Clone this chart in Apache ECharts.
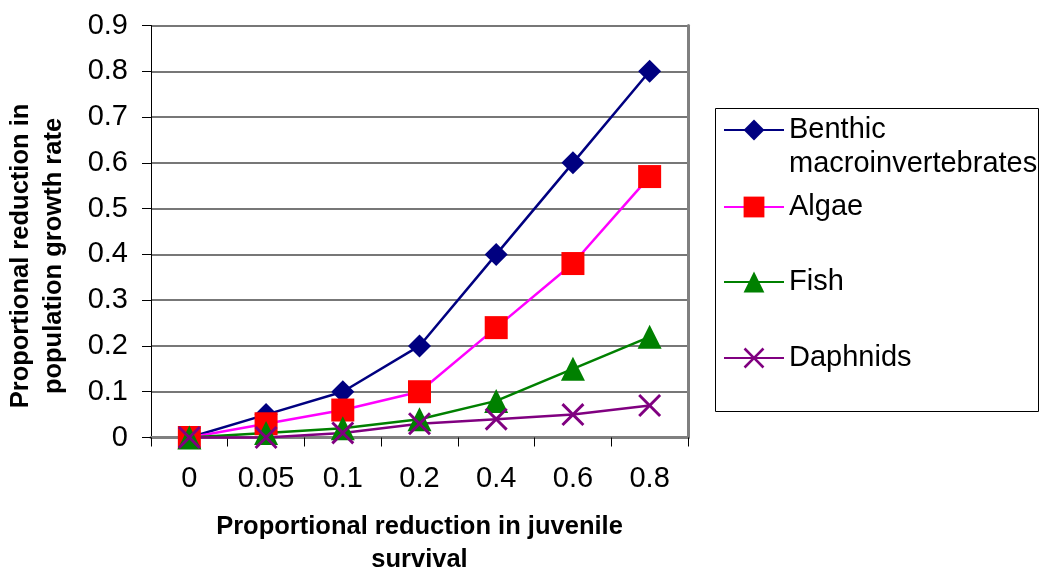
<!DOCTYPE html>
<html>
<head>
<meta charset="utf-8">
<script src="https://cdn.jsdelivr.net/npm/echarts@6/dist/echarts.min.js"></script>
<style>
  html, body { margin: 0; padding: 0; background: #fff; }
  #chart { width: 1042px; height: 571px; }
</style>
</head>
<body>
<div id="chart"></div>
<script>
// Proportional reduction in juvenile survival (category axis)
const survivalReduction = ['0', '0.05', '0.1', '0.2', '0.4', '0.6', '0.8'];

// Proportional reduction in population growth rate, per taxon
const benthic  = [0, 0.05, 0.10, 0.20, 0.40, 0.60, 0.80];
const algae    = [0, 0.03, 0.06, 0.10, 0.24, 0.38, 0.57];
const fish     = [0, 0.01, 0.02, 0.04, 0.08, 0.15, 0.22];
const daphnids = [0, 0.00, 0.01, 0.03, 0.04, 0.05, 0.07];

const seriesNames = ['Benthic macroinvertebrates', 'Algae', 'Fish', 'Daphnids'];

const FONT = '"Liberation Sans", Arial, sans-serif';
// filled "x" marker outline
const CROSS = 'path://M0,9 L9,0 L50,41 L91,0 L100,9 L59,50 L100,91 L91,100 L50,59 L9,100 L0,91 L41,50 Z';

const chart = echarts.init(document.getElementById('chart'), null, { renderer: 'canvas' });

function legendFor(name, top, extra) {
  return Object.assign({
    data: [name],
    orient: 'vertical',
    left: 723,
    top: top,
    padding: 0,
    itemWidth: 60,
    itemHeight: 26,
    selectedMode: false,
    textStyle: { fontFamily: FONT, fontSize: 29, color: '#000', lineHeight: 34 }
  }, extra || {});
}

const option = {
  animation: false,
  backgroundColor: '#ffffff',
  grid: { left: 151, top: 25.5, right: 354, bottom: 133.5, containLabel: false, outerBoundsMode: 'none' },
  xAxis: [{
    type: 'category',
    data: survivalReduction,
    boundaryGap: true,
    axisLine: { lineStyle: { color: '#000', width: 1 } },
    axisTick: { show: true, length: 9, inside: false, lineStyle: { color: '#000' } },
    axisLabel: { fontFamily: FONT, fontSize: 29, color: '#000', margin: 27 },
    splitLine: { show: false },
    name: 'Proportional reduction in juvenile\nsurvival',
    nameLocation: 'middle',
    nameGap: 73,
    nameTextStyle: { fontFamily: FONT, fontSize: 25.5, fontWeight: 'bold', color: '#000', lineHeight: 33 }
  }, {
    type: 'category',
    position: 'top',
    data: survivalReduction,
    axisLine: { lineStyle: { color: '#808080', width: 3 } },
    axisTick: { show: false },
    axisLabel: { show: false },
    splitLine: { show: false }
  }],
  yAxis: [{
    type: 'value',
    min: 0,
    max: 0.9,
    interval: 0.1,
    axisLine: { show: true, lineStyle: { color: '#000', width: 1 } },
    axisTick: { show: true, length: 9, inside: false, lineStyle: { color: '#000' } },
    axisLabel: { fontFamily: FONT, fontSize: 29, color: '#000', margin: 23 },
    splitLine: { show: true, lineStyle: { color: '#4a4a4a', width: 1.5 } }
  }, {
    type: 'value',
    position: 'right',
    min: 0,
    max: 0.9,
    interval: 0.1,
    axisLine: { show: true, lineStyle: { color: '#808080', width: 3 } },
    axisTick: { show: false },
    axisLabel: { show: false },
    splitLine: { show: false }
  }],
  legend: [
    // the leading blank line keeps the icon beside the first line of the wrapped name
    legendFor(seriesNames[0], 79, {
      formatter: () => '\nBenthic\nmacroinvertebrates'
    }),
    legendFor(seriesNames[1], 190),
    legendFor(seriesNames[2], 265),
    legendFor(seriesNames[3], 341)
  ],
  graphic: [{
    type: 'rect',
    shape: { x: 715.5, y: 108.5, width: 323, height: 303 },
    style: { fill: 'none', stroke: '#000', lineWidth: 1 },
    z: -1
  }, {
    type: 'text',
    x: 37.5,
    y: 256,
    rotation: Math.PI / 2,
    style: {
      text: 'Proportional reduction in\npopulation growth rate',
      x: 0, y: 0,
      align: 'center',
      verticalAlign: 'middle',
      font: 'bold 25.5px ' + FONT,
      lineHeight: 33,
      fill: '#000'
    }
  }],
  series: [{
    name: seriesNames[0],
    type: 'line',
    data: benthic,
    symbol: 'diamond',
    symbolSize: 23,
    clip: false,
    lineStyle: { color: '#000080', width: 2.5 },
    itemStyle: { color: '#000080' }
  }, {
    name: seriesNames[1],
    type: 'line',
    data: algae,
    symbol: 'rect',
    symbolSize: 23,
    clip: false,
    lineStyle: { color: '#FF00FF', width: 2.5 },
    itemStyle: { color: '#FF0000' }
  }, {
    name: seriesNames[2],
    type: 'line',
    data: fish,
    symbol: 'triangle',
    symbolSize: 24,
    clip: false,
    lineStyle: { color: '#008000', width: 2.5 },
    itemStyle: { color: '#008000' }
  }, {
    name: seriesNames[3],
    type: 'line',
    data: daphnids,
    symbol: CROSS,
    symbolSize: 23,
    clip: false,
    lineStyle: { color: '#800080', width: 2.5 },
    itemStyle: { color: '#800080' }
  }]
};

chart.setOption(option);
</script>
</body>
</html>
